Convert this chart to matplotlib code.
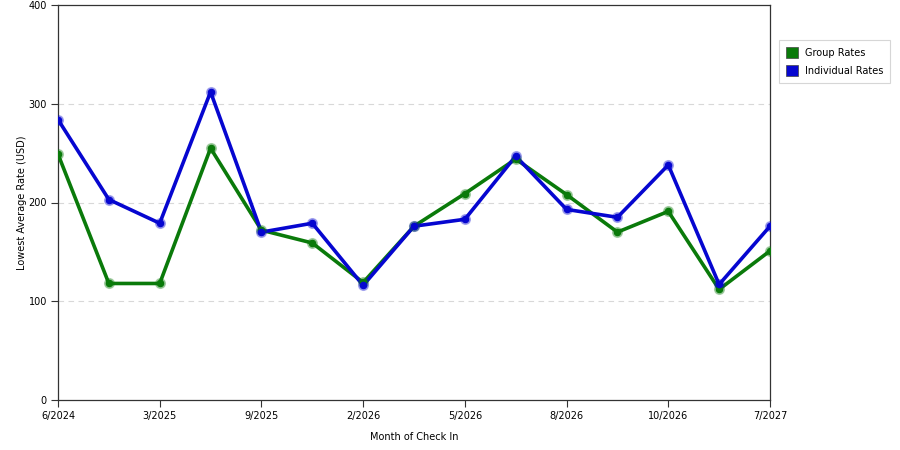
import matplotlib
matplotlib.use('Agg')
import matplotlib.pyplot as plt
import matplotlib.patches as patches

# values
months = ['6/2024', '', '3/2025', '', '9/2025', '', '2/2026', '', '5/2026', '',
          '8/2026', '', '10/2026', '', '7/2027']
group_rates = [249, 118, 118, 255, 172, 159, 119, 176, 209, 244, 208, 170, 191, 112, 151]
individual_rates = [284, 203, 179, 312, 170, 179, 116, 176, 183, 247, 193, 185, 238, 117, 176]
y_ticks = [0, 100, 200, 300, 400]

green = '#0a7a0a'
blue = '#0606d0'

fig = plt.figure(figsize=(9, 4.5), dpi=100)
ax = fig.add_axes([58 / 900, 50 / 450, 712 / 900, 395 / 450])

x = list(range(len(months)))

# series: thick line with a soft halo under the round markers
for vals, col, lab in [(group_rates, green, 'Group Rates'),
                       (individual_rates, blue, 'Individual Rates')]:
    ax.plot(x, vals, color=col, linewidth=2.6, zorder=3)
    ax.plot(x, vals, linestyle='none', marker='o', markersize=7,
            markerfacecolor=col, markeredgecolor=col, alpha=0.3, zorder=4)
    ax.plot(x, vals, linestyle='none', marker='o', markersize=4.5,
            color=col, zorder=5)

ax.set_xlim(0, len(months) - 1)
ax.set_ylim(0, 400)
ax.set_yticks(y_ticks)
ax.set_yticklabels([str(v) for v in y_ticks], fontsize=7)

tick_pos = [i for i, m in enumerate(months) if m]
ax.set_xticks(tick_pos)
ax.set_xticklabels([months[i] for i in tick_pos], fontsize=7)
ax.tick_params(direction='out', length=5, width=0.8, color='#333333', pad=3)

for v in y_ticks[1:-1]:
    ax.axhline(v, color='#d8d8d8', linestyle=(0, (5, 4)), linewidth=0.8, zorder=1)

for s in ax.spines.values():
    s.set_color('#333333')
    s.set_linewidth(0.9)

ax.set_ylabel('Lowest Average Rate (USD)', fontsize=7, labelpad=1)
ax.set_xlabel('Month of Check In', fontsize=7, labelpad=8)

handles = [patches.Patch(facecolor=green, edgecolor='#444444', linewidth=0.5, label='Group Rates'),
           patches.Patch(facecolor=blue, edgecolor='#444444', linewidth=0.5, label='Individual Rates')]
leg = fig.legend(handles=handles, loc='upper left', bbox_to_anchor=(779 / 900, 1 - 40 / 450),
                 borderaxespad=0, fontsize=7, frameon=True, fancybox=False,
                 handlelength=1.2, handleheight=1.3, borderpad=0.75, labelspacing=0.75,
                 handletextpad=0.7)
leg.get_frame().set_edgecolor('#cccccc')
leg.get_frame().set_linewidth(0.8)

fig.savefig('out.png', dpi=100)
